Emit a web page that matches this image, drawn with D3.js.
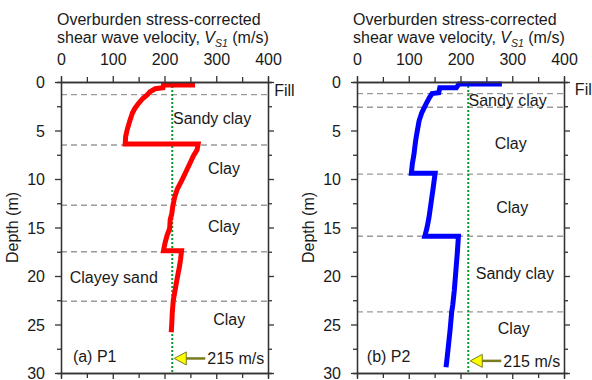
<!DOCTYPE html>
<html>
<head>
<meta charset="utf-8">
<script src="https://cdn.jsdelivr.net/npm/d3@7/dist/d3.min.js"></script>
<style>
  body { margin: 0; background: #fff; }
  svg { display: block; font-family: "Liberation Sans", Arial, sans-serif; }
</style>
</head>
<body>
<svg id="chart" width="592" height="380"></svg>
<script>
// axis ticks
let vsTicks = [0, 100, 200, 300, 400];
let vsMinor = [50, 150, 250, 350];
let depthTicks = [0, 5, 10, 15, 20, 25, 30];
let depthMinor = [2.5, 7.5, 12.5, 17.5, 22.5, 27.5];
let criterion = 215; // m/s

// (a) P1 - corrected Vs1 (m/s) against depth (m)
let p1Vs    = [259, 198, 197, 182, 172, 166, 158, 150, 143, 138, 133, 128, 125, 124,
               265, 263, 256, 249, 241, 233, 225, 220, 216, 214, 211, 210, 205, 201, 198,
               233, 231, 229, 225, 221, 217, 215, 214, 213];
let p1Depth = [0.3, 0.3, 0.6, 0.7, 1.0, 1.35, 1.7, 2.2, 2.7, 3.2, 4.0, 4.9, 5.6, 6.4,
               6.4, 7.0, 7.6, 8.4, 9.3, 10.2, 11.0, 11.8, 12.8, 13.6, 14.2, 15.1, 15.8, 16.6, 17.4,
               17.4, 18.3, 19.0, 20.1, 21.3, 22.5, 23.8, 25.0, 25.8];
let p1Layers = [1.3, 6.5, 12.7, 17.5, 22.6];
let p1Soils = ["Fill", "Sandy clay", "Clay", "Clay", "Clayey sand", "Clay"];

// (b) P2
let p2Vs    = [280, 197, 192, 160, 158, 145, 140, 133, 125, 120, 117, 114, 112, 110, 107, 105,
               151, 147, 143, 139, 135, 131,
               196, 194, 191, 188, 185, 183, 180, 177, 174, 172];
let p2Depth = [0.2, 0.2, 0.6, 0.6, 1.1, 1.2, 1.6, 2.3, 3.2, 4.0, 4.9, 5.8, 6.6, 7.5, 8.4, 9.4,
               9.4, 11.0, 12.5, 14.0, 15.1, 15.9,
               15.9, 17.5, 19.5, 21.5, 23.0, 23.7, 25.5, 27.0, 28.5, 29.4];
let p2Layers = [1.2, 2.6, 9.5, 15.9, 23.7];
let p2Soils = ["Fill", "Sandy clay", "Clay", "Clay", "Sandy clay", "Clay"];

let svg = d3.select("#chart");
let plotTop = 82, plotH = 291, plotW = 207;

let panels = [
  { left: 61, vs: p1Vs, depth: p1Depth, color: "#ff0000", layers: p1Layers, soils: p1Soils,
    name: "(a) P1", arrowDepth: 28.5,
    // label spots [vs, depth, anchor]
    spots: [[412, 0.8, "start"], [292, 3.7, "middle"], [315, 8.9, "middle"], [315, 14.9, "middle"],
            [102, 20.1, "middle"], [325, 24.5, "middle"]],
    nameAt: [23, 28.3] },
  { left: 357, vs: p2Vs, depth: p2Depth, color: "#0000ff", layers: p2Layers, soils: p2Soils,
    name: "(b) P2", arrowDepth: 28.75,
    spots: [[421, 0.75, "start"], [291, 1.9, "middle"], [297, 6.3, "middle"], [300, 12.9, "middle"],
            [305, 19.7, "middle"], [303, 25.4, "middle"]],
    nameAt: [19, 28.3] }
];

panels.forEach(drawPanel);

function drawPanel(p) {
  let x = d3.scaleLinear().domain([0, 400]).range([0, plotW]);
  let y = d3.scaleLinear().domain([0, 30]).range([0, plotH]);
  let g = svg.append("g").attr("transform", translate(p.left, plotTop));

  // layer boundaries
  g.selectAll(".layer").data(p.layers).enter().append("line")
    .attr("x1", 0).attr("x2", plotW)
    .attr("y1", d => y(d)).attr("y2", d => y(d))
    .attr("stroke", "#9a9a9a").attr("stroke-width", 1.4)
    .attr("stroke-dasharray", "6,4");

  // 215 m/s criterion
  g.append("line")
    .attr("x1", x(criterion)).attr("x2", x(criterion))
    .attr("y1", 0).attr("y2", plotH)
    .attr("stroke", "#0a9a2a").attr("stroke-width", 2)
    .attr("stroke-dasharray", "2,2");

  // profile
  let pts = p.vs.map((v, i) => [v, p.depth[i]]);
  let line = d3.line().x(d => x(d[0])).y(d => y(d[1]));
  g.append("path").datum(pts)
    .attr("d", line)
    .attr("fill", "none")
    .attr("stroke", p.color)
    .attr("stroke-width", 5)
    .attr("stroke-linejoin", "miter");

  // axes, ticks outward
  let axTop = d3.axisTop(x).tickValues(vsTicks).tickSize(6).tickSizeOuter(0).tickPadding(11);
  let axTopMinor = d3.axisTop(x).tickValues(vsMinor).tickSize(5).tickFormat("");
  let axBot = d3.axisBottom(x).tickValues(vsTicks).tickSize(6).tickSizeOuter(0).tickFormat("");
  let axBotMinor = d3.axisBottom(x).tickValues(vsMinor).tickSize(5).tickFormat("");
  let axLeft = d3.axisLeft(y).tickValues(depthTicks).tickSize(6).tickSizeOuter(0).tickPadding(10);
  let axLeftMinor = d3.axisLeft(y).tickValues(depthMinor).tickSize(4).tickFormat("");
  let axRight = d3.axisRight(y).tickValues(depthTicks).tickSize(6).tickSizeOuter(0).tickFormat("");
  let axRightMinor = d3.axisRight(y).tickValues(depthMinor).tickSize(4).tickFormat("");

  let axes = [
    [axTop, null], [axTopMinor, null],
    [axBot, translate(0, plotH)], [axBotMinor, translate(0, plotH)],
    [axLeft, null], [axLeftMinor, null],
    [axRight, translate(plotW, 0)], [axRightMinor, translate(plotW, 0)]
  ];
  axes.forEach(a => {
    let ag = g.append("g").call(a[0]);
    if (a[1]) ag.attr("transform", a[1]);
    ag.selectAll("path, line").attr("stroke", "#333").attr("stroke-width", 1.3);
    ag.selectAll("text").attr("fill", "#1a1a1a")
      .style("font-size", "16px").style("font-family", "Liberation Sans, Arial, sans-serif");
  });
  g.selectAll(".tick text").attr("dy", null);
  g.selectAll("g").filter(function() { return d3.select(this).attr("text-anchor") === "end"; })
    .selectAll(".tick text").attr("dy", "0.36em");

  // titles
  let t = svg.append("text")
    .attr("x", p.left - 4).attr("y", 25)
    .attr("fill", "#1a1a1a").style("font-size", "16px")
    .text("Overburden stress-corrected");
  let t2 = svg.append("text")
    .attr("x", p.left - 4).attr("y", 43)
    .attr("fill", "#1a1a1a").style("font-size", "16px");
  t2.append("tspan").text("shear wave velocity, ");
  t2.append("tspan").style("font-style", "italic").text("V");
  t2.append("tspan").style("font-style", "italic").style("font-size", "10.5px")
    .attr("dy", 4).text("S1");
  t2.append("tspan").attr("dy", -4).text(" (m/s)");

  svg.append("text")
    .attr("transform", translate(p.left - 43, plotTop + plotH / 2) + " rotate(-90)")
    .attr("text-anchor", "middle")
    .attr("fill", "#1a1a1a").style("font-size", "16px")
    .text("Depth (m)");

  // soil names
  g.selectAll(".soil").data(p.soils).enter().append("text")
    .attr("x", (d, i) => x(p.spots[i][0]))
    .attr("y", (d, i) => y(p.spots[i][1]))
    .attr("dy", "0.36em")
    .attr("text-anchor", (d, i) => p.spots[i][2])
    .attr("fill", "#1a1a1a").style("font-size", "16px")
    .text(d => d);

  g.append("text")
    .attr("x", x(p.nameAt[0])).attr("y", y(p.nameAt[1]))
    .attr("dy", "0.36em")
    .attr("fill", "#1a1a1a").style("font-size", "16px")
    .text(p.name);

  // arrow pointing at criterion
  let ax = x(criterion), ay = y(p.arrowDepth);
  g.append("line")
    .attr("x1", ax + 12).attr("x2", ax + 33)
    .attr("y1", ay).attr("y2", ay)
    .attr("stroke", "#7a7a1e").attr("stroke-width", 2.5);
  g.append("path")
    .attr("d", "M" + (ax + 2) + "," + ay + "L" + (ax + 14) + "," + (ay - 6.5) +
               "L" + (ax + 14) + "," + (ay + 6.5) + "Z")
    .attr("fill", "#ffff00").attr("stroke", "#7a7a1e").attr("stroke-width", 1);
  g.append("text")
    .attr("x", ax + 35).attr("y", ay)
    .attr("dy", "0.36em")
    .attr("fill", "#1a1a1a").style("font-size", "16px")
    .text(criterion + " m/s");
}

function translate(x, y) {
  return "translate(" + x + "," + y + ")";
}
</script>
</body>
</html>
